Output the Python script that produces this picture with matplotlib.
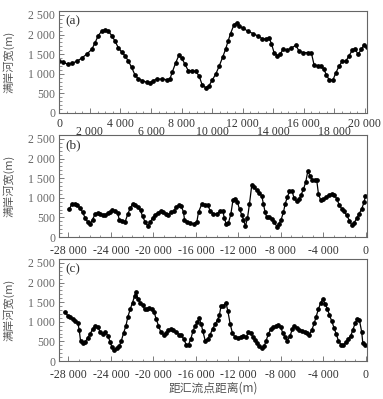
import matplotlib
matplotlib.use("Agg")
import matplotlib.pyplot as plt
from matplotlib.ticker import MultipleLocator

# (a) 距离 / 河宽
dist_a = [0, 260, 550, 810, 1140, 1465, 1790, 2120, 2335, 2550, 2770, 2990, 3205, 3430,
          3640, 3860, 4080, 4300, 4510, 4730, 4950, 5170, 5430, 5715, 5930, 6150, 6370,
          6700, 7020, 7240, 7390, 7610, 7830, 8000, 8220, 8440, 8700, 8920, 9140, 9350,
          9575, 9790, 10000, 10250, 10460, 10690, 10880, 11050, 11210, 11430, 11600,
          11770, 12030, 12360, 12690, 13020, 13300, 13560, 13730, 13890, 14060, 14280,
          14480, 14650, 14910, 15200, 15480, 15700, 15960, 16290, 16510, 16680, 16940,
          17160, 17310, 17490, 17660, 17920, 18100, 18310, 18530, 18750, 18970, 19190,
          19340, 19560, 19780, 19930, 20140]
width_a = [1330, 1290, 1245, 1270, 1315, 1400, 1500, 1620, 1790, 1975, 2085, 2125, 2085,
           1975, 1835, 1665, 1555, 1460, 1330, 1165, 970, 870, 825, 785, 770, 825, 865,
           865, 850, 865, 1040, 1270, 1475, 1410, 1245, 1080, 1080, 1060, 955, 720, 645,
           690, 830, 1000, 1190, 1420, 1620, 1835, 2025, 2245, 2295, 2210, 2165, 2080,
           2025, 1960, 1890, 1890, 1920, 1765, 1540, 1460, 1500, 1640, 1600, 1660, 1725,
           1580, 1540, 1540, 1520, 1225, 1205, 1190, 1120, 970, 850, 845, 1020, 1190,
           1325, 1315, 1460, 1605, 1640, 1500, 1620, 1725, 1685]

# (b)
dist_b = [-27920, -27670, -27420, -27170, -26880, -26670, -26410, -26160, -25940, -25730,
          -25470, -25220, -25000, -24750, -24530, -24280, -24060, -23850, -23590, -23370,
          -23210, -22960, -22650, -22400, -22180, -21930, -21710, -21460, -21210, -21020,
          -20770, -20550, -20300, -20080, -19830, -19570, -19290, -19070, -18820, -18600,
          -18320, -18070, -17880, -17630, -17380, -17160, -17070, -16840, -16530, -16220,
          -15900, -15750, -15430, -15120, -14870, -14650, -14340, -14020, -13710, -13460,
          -13310, -13150, -12930, -12700, -12510, -12300, -12080, -11890, -11670, -11520,
          -11330, -11140, -10950, -10730, -10510, -10260, -10010, -9790, -9640, -9480,
          -9320, -9070, -8820, -8600, -8380, -8160, -7970, -7750, -7590, -7380, -7190,
          -6960, -6750, -6490, -6250, -6090, -5870, -5650, -5460, -5240, -5030, -4770,
          -4620, -4460, -4240, -3990, -3740, -3480, -3200, -2950, -2730, -2510, -2260,
          -2040, -1790, -1540, -1320, -1100, -850, -630, -380, -160, -40]
width_b = [703, 847, 847, 805, 737, 634, 480, 377, 334, 446, 590, 616, 590, 549, 565, 608,
           634, 677, 651, 616, 446, 420, 395, 590, 737, 847, 821, 762, 677, 531, 377, 292,
           377, 480, 565, 616, 668, 634, 590, 565, 634, 651, 762, 805, 790, 634, 446, 395,
           360, 334, 395, 634, 847, 821, 805, 670, 578, 590, 651, 651, 480, 334, 360, 590,
           933, 976, 890, 703, 565, 446, 275, 480, 847, 1335, 1276, 1190, 1122, 1045, 847,
           634, 498, 498, 462, 377, 267, 334, 446, 634, 847, 1019, 1165, 1181, 993, 909,
           976, 1078, 1217, 1404, 1679, 1558, 1463, 1448, 1448, 1104, 933, 960, 1019, 1078,
           1104, 1062, 976, 821, 719, 651, 549, 420, 308, 360, 480, 590, 719, 890, 1037]

# (c)
dist_c = [-28300, -28040, -27830, -27610, -27350, -27100, -26980, -26860, -26670, -26410,
          -26200, -25940, -25730, -25470, -25220, -25000, -24750, -24530, -24280, -24060,
          -23900, -23690, -23430, -23220, -23030, -22810, -22580, -22400, -22180, -21960,
          -21770, -21640, -21450, -21240, -21020, -20830, -20610, -20390, -20140, -19920,
          -19730, -19520, -19290, -19040, -18790, -18580, -18320, -18110, -17850, -17570,
          -17380, -17160, -16910, -16690, -16470, -16280, -16060, -15850, -15690, -15500,
          -15340, -15120, -14870, -14650, -14430, -14180, -13960, -13780, -13620, -13400,
          -13170, -12990, -12770, -12550, -12300, -12040, -11760, -11520, -11270, -11050,
          -10830, -10630, -10420, -10200, -10010, -9790, -9570, -9380, -9170, -8940, -8690,
          -8440, -8220, -8000, -7810, -7590, -7380, -7120, -6910, -6720, -6490, -6250,
          -6020, -5770, -5550, -5300, -5080, -4860, -4680, -4460, -4240, -4050, -3830,
          -3610, -3430, -3200, -2980, -2790, -2580, -2350, -2100, -1880, -1640, -1410,
          -1220, -1010, -790, -600, -380, -280, -70]
width_c = [1238, 1154, 1112, 1069, 1028, 960, 790, 523, 455, 480, 589, 690, 816, 902, 875,
           732, 690, 732, 648, 480, 354, 286, 337, 371, 505, 707, 902, 1128, 1322, 1490,
           1660, 1768, 1574, 1490, 1432, 1322, 1322, 1347, 1322, 1238, 1069, 902, 732, 674,
           707, 790, 816, 790, 732, 674, 674, 564, 421, 421, 564, 758, 902, 986, 1095, 943,
           758, 523, 564, 674, 816, 943, 1044, 1180, 1407, 1407, 1490, 1280, 943, 707, 606,
           589, 624, 649, 606, 732, 707, 606, 538, 455, 371, 337, 371, 523, 690, 816, 858,
           902, 926, 858, 707, 606, 523, 649, 816, 902, 841, 790, 775, 732, 707, 674, 790,
           960, 1128, 1322, 1490, 1574, 1465, 1322, 1180, 1011, 841, 690, 523, 421, 396,
           480, 564, 649, 790, 960, 1069, 1044, 732, 455, 396]

yticks = [0, 500, 1000, 1500, 2000, 2500]
xticks_a = list(range(0, 20001, 2000))
xticks_bc = list(range(-28000, 1, 4000))


def fmt(v):
    s = f"{abs(v):,}".replace(",", " ")
    return "-" + s if v < 0 else s


num_font = ["Liberation Serif", "Noto Sans CJK SC"]
cjk_font = ["Noto Sans CJK SC", "Liberation Serif"]
grey = "#555555"

fig = plt.figure(figsize=(3.83, 3.99), dpi=100)
ax_a = fig.add_axes([0.155, 0.7168, 0.8034, 0.2556])
ax_b = fig.add_axes([0.155, 0.4060, 0.8034, 0.2556])
ax_c = fig.add_axes([0.155, 0.0952, 0.8034, 0.2556])

panels = [(ax_a, dist_a, width_a, "(a)"),
          (ax_b, dist_b, width_b, "(b)"),
          (ax_c, dist_c, width_c, "(c)")]

for ax, x, y, tag in panels:
    ax.plot(x, y, color="black", lw=0.9, marker="o", ms=2.4)
    ax.set_ylim(0, 2600)
    ax.set_yticks(yticks)
    ax.set_yticklabels([fmt(v) for v in yticks], family=num_font, fontsize=8.5, color="#333333")
    ax.yaxis.set_minor_locator(MultipleLocator(100))
    ax.tick_params(which="both", direction="in", top=False, right=False, colors="#666666")
    ax.tick_params(which="major", length=3.5, width=0.6)
    ax.tick_params(axis="y", which="major", pad=3)
    ax.tick_params(axis="x", which="major", pad=5.5)
    ax.tick_params(which="minor", length=1.8, width=0.5)
    for s in ax.spines.values():
        s.set_color("#666666")
        s.set_linewidth(0.8)
    ax.set_ylabel("满岸河宽(m)", family=cjk_font, fontsize=8, color=grey)
    ax.yaxis.set_label_coords(-0.145, 0.5)
    ax.text(0.02, 0.9, tag, transform=ax.transAxes, family=num_font, fontsize=9.5,
            va="center", ha="left", color="#333333")

# (a) 横轴: 标签上下错开
ax_a.set_xlim(0, 20150)
ax_a.set_xticks(xticks_a)
ax_a.set_xticklabels([fmt(v) for v in xticks_a], family=num_font, fontsize=8.5, color="#333333")
ax_a.xaxis.set_minor_locator(MultipleLocator(500))
for i, t in enumerate(ax_a.xaxis.get_major_ticks()):
    if i % 2 == 1:
        t.set_pad(9.5)
    else:
        t.set_pad(3.5)

for ax in (ax_b, ax_c):
    ax.set_xlim(-28850, 120)
    ax.set_xticks(xticks_bc)
    ax.set_xticklabels([fmt(v) for v in xticks_bc], family=num_font, fontsize=8.5, color="#333333")
    ax.xaxis.set_minor_locator(MultipleLocator(1000))

ax_c.set_xlabel("距汇流点距离(m)", family=cjk_font, fontsize=8.5, color=grey)
ax_c.xaxis.set_label_coords(0.5, -0.2)

fig.savefig("out.png", dpi=100)
